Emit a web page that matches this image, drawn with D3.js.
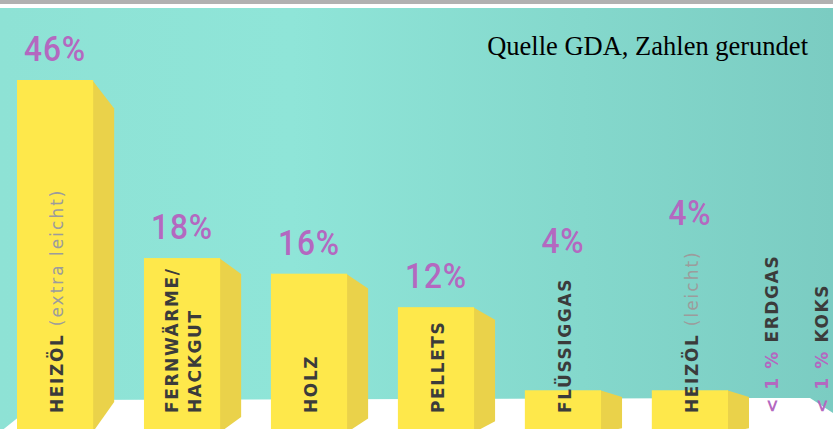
<!DOCTYPE html>
<html>
<head>
<meta charset="utf-8">
<script src="https://cdn.jsdelivr.net/npm/d3@7"></script>
<style>
  html, body { margin: 0; padding: 0; background: #fff; }
  svg { display: block; }
</style>
</head>
<body>
<div id="chart"></div>
<script>
// Heizungsarten, Anteile in Prozent
let categories = ["HEIZÖL", "FERNWÄRME/|HACKGUT", "HOLZ", "PELLETS", "FLÜSSIGGAS", "HEIZÖL"]
let notes = ["(extra leicht)", "", "", "", "", "(leicht)"]
let values = [46, 18, 16, 12, 4, 4]
let valueLabels = ["46%", "18%", "16%", "12%", "4%", "4%"]

// kleine Anteile ohne Balken
let smallCategories = ["ERDGAS", "KOKS"]
let smallLabels = ["< 1 %", "< 1 %"]

let source = "Quelle GDA, Zahlen gerundet"

let colors = {
    purple: "#b468c0",
    text: "#3b3b3b",
    note: "#9c9c9c",
    front: "#fee84b",
    side: "#ead24a",
    floor: "#ffffff"
}

const width = 833
const height = 429
const floorY = 400
const depth = 21

let svg = d3.select("#chart")
    .append("svg")
    .attr("width", width)
    .attr("height", height)

// hintergrund
let defs = svg.append("defs")
let grad = defs.append("linearGradient")
    .attr("id", "bg")
    .attr("x1", "0%").attr("x2", "100%")
    .attr("y1", "0%").attr("y2", "0%")
grad.append("stop").attr("offset", "0%").attr("stop-color", "#8ee2d5")
grad.append("stop").attr("offset", "35%").attr("stop-color", "#8fe5d8")
grad.append("stop").attr("offset", "70%").attr("stop-color", "#84d8cc")
grad.append("stop").attr("offset", "100%").attr("stop-color", "#7bccc2")

svg.append("rect")
    .attr("x", 0).attr("y", 0)
    .attr("width", width).attr("height", 4)
    .attr("fill", "#b1b1b1")

svg.append("rect")
    .attr("x", 0).attr("y", 8)
    .attr("width", width).attr("height", height - 8)
    .attr("fill", "url(#bg)")

// boden
svg.append("path")
    .attr("d", d3.line()([
        [0, 432], [40, floorY], [810, floorY - 2], [833, 413], [833, height], [0, height]
    ]))
    .attr("fill", colors.floor)

// skalen
let x = d3.scaleBand()
    .domain(d3.range(categories.length))
    .range([17, 728])
    .paddingInner(0.4)
    .paddingOuter(0)
    .align(0)

let y = d3.scalePow()
    .exponent(0.65)
    .domain([0, 46])
    .range([470, 80])

let xSmall = d3.scalePoint()
    .domain(smallCategories)
    .range([778, 828])

let bars = svg.append("g")
    .selectAll("g")
    .data(values)
    .join("g")

// seitenflaeche
bars.append("path")
    .attr("fill", colors.side)
    .attr("d", (d, i) => {
        let x1 = x(i) + x.bandwidth()
        let top = y(d)
        let dy = 6 + (floorY - top) * 0.07
        let bottom = height - (dy - 6) * 1.2
        return d3.line()([
            [x1 - 1, top], [x1 + depth, top + dy], [x1 + depth, bottom], [x1 - 1, height + 4]
        ]) + "Z"
    })

// vorderseite
bars.append("rect")
    .attr("x", (d, i) => x(i))
    .attr("y", d => y(d))
    .attr("width", x.bandwidth())
    .attr("height", d => height - y(d))
    .attr("fill", colors.front)

// kategorie texte (gedreht)
const labelFont = "'DejaVu Sans', sans-serif"
const textBottom = 413

let labelTops = []

categories.forEach((c, i) => {
    let lines = c.split("|")
    let cx = x(i) + x.bandwidth() / 2
    let offsets = lines.length > 1 ? [-4, 19] : [8]
    let top = textBottom
    lines.forEach((line, j) => {
        let t = svg.append("text")
            .attr("transform", `translate(${cx + offsets[j]},${textBottom}) rotate(-90)`)
            .attr("font-family", labelFont)
            .attr("font-size", 17)
            .attr("letter-spacing", 1.6)
            .attr("fill", colors.text)
        t.append("tspan")
            .attr("font-weight", "bold")
            .text(line)
        if (j == 0 && notes[i]) {
            t.append("tspan")
                .attr("font-weight", "normal")
                .attr("fill", colors.note)
                .attr("letter-spacing", 2)
                .text(" " + notes[i])
        }
        let len = t.node().getComputedTextLength()
        top = Math.min(top, textBottom - len)
    })
    labelTops.push(top)
})

// prozent werte
svg.append("g")
    .selectAll("text")
    .data(values)
    .join("text")
    .attr("transform", (d, i) => {
        let px = x(i) + x.bandwidth() / 2
        let py = Math.min(y(d) - 19, labelTops[i] - 25)
        return `translate(${px},${py}) scale(0.88,1)`
    })
    .attr("text-anchor", "middle")
    .attr("font-family", "Roboto, sans-serif")
    .attr("font-weight", 500)
    .attr("font-size", 36)
    .attr("letter-spacing", 1)
    .attr("fill", colors.purple)
    .text((d, i) => valueLabels[i])

// kleine anteile
smallCategories.forEach((c, i) => {
    let t = svg.append("text")
        .attr("transform", `translate(${xSmall(c)},${textBottom}) rotate(-90)`)
        .attr("font-family", labelFont)
        .attr("font-size", 17)
        .attr("font-weight", "bold")
        .attr("letter-spacing", 1.6)
    t.append("tspan")
        .attr("fill", colors.purple)
        .text(smallLabels[i] + " ")
    t.append("tspan")
        .attr("fill", colors.text)
        .text(c)
})

// quelle
svg.append("text")
    .attr("x", 808)
    .attr("y", 55)
    .attr("text-anchor", "end")
    .attr("font-family", "'Liberation Serif', 'Times New Roman', serif")
    .attr("font-size", 26.5)
    .attr("fill", "#000")
    .text(source)
</script>
</body>
</html>
